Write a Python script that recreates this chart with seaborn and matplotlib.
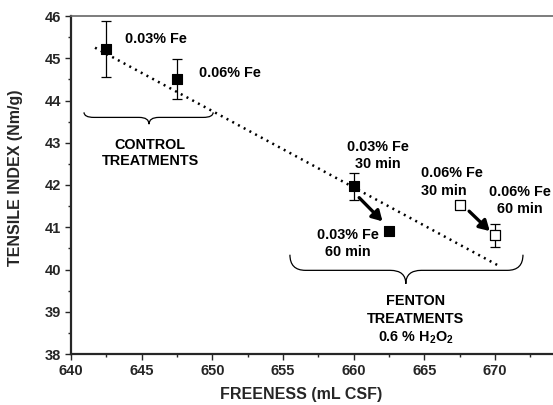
import numpy as np
import pandas as pd
import matplotlib
matplotlib.use("Agg")
import matplotlib.pyplot as plt
from matplotlib.path import Path
from matplotlib.patches import PathPatch
import seaborn as sns

# ---- data ----
freeness = [642.5, 647.5, 660.0, 662.5, 667.5, 670.0]
tensile = [45.22, 44.51, 41.97, 40.90, 41.52, 40.81]
tensile_err = [0.66, 0.48, 0.32, 0.0, 0.0, 0.27]
fill_kind = ["filled", "filled", "filled", "filled", "open", "open"]

trend_x = [641.7, 670.2]
trend_y = [45.25, 40.10]

x_ticks = [640, 645, 650, 655, 660, 665, 670]
y_ticks = [38, 39, 40, 41, 42, 43, 44, 45, 46]

df = pd.DataFrame({"freeness": freeness, "tensile": tensile,
                   "err": tensile_err, "kind": fill_kind})

sns.set_style("ticks")
plt.rcParams["font.family"] = ["Liberation Sans", "DejaVu Sans"]
plt.rcParams["font.weight"] = "bold"
plt.rcParams["mathtext.default"] = "regular"

fig = plt.figure(figsize=(5.53, 4.05), dpi=100)
ax = fig.add_axes([71 / 553, 1 - 354 / 405, 482 / 553, 338 / 405])

# trend line
sns.lineplot(x=trend_x, y=trend_y, ax=ax, color="black", lw=1.8,
             linestyle=(0, (0.8, 1.8)), zorder=2)

# error bars
with_err = df[df["err"] > 0]
ax.errorbar(with_err["freeness"], with_err["tensile"], yerr=with_err["err"],
            fmt="none", ecolor="black", elinewidth=0.9, capsize=3.5,
            capthick=0.9, zorder=3)

# points
filled = df[df["kind"] == "filled"]
opened = df[df["kind"] == "open"]
sns.scatterplot(data=filled, x="freeness", y="tensile", ax=ax, marker="s",
                s=50, color="black", edgecolor="black", linewidth=0.8, zorder=4)
sns.scatterplot(data=opened, x="freeness", y="tensile", ax=ax, marker="s",
                s=50, facecolor="white", edgecolor="black", linewidth=0.9, zorder=4)

# arrows
arrow_kw = dict(arrowstyle="-|>,head_width=0.35,head_length=0.6",
                color="black", lw=2.4, shrinkA=0, shrinkB=0)
ax.annotate("", xy=(662.04, 41.14), xytext=(660.39, 41.70), arrowprops=arrow_kw)
ax.annotate("", xy=(669.63, 40.91), xytext=(668.17, 41.38), arrowprops=arrow_kw)


def brace(x0, x1, xm, ytop, yline, ytip, r):
    verts = [(x0, ytop), (x0, yline), (x0 + r, yline),
             (xm - r, yline), (xm, yline), (xm, ytip),
             (xm, yline), (xm + r, yline),
             (x1 - r, yline), (x1, yline), (x1, ytop)]
    codes = [Path.MOVETO, Path.CURVE3, Path.CURVE3,
             Path.LINETO, Path.CURVE3, Path.CURVE3,
             Path.CURVE3, Path.CURVE3,
             Path.LINETO, Path.CURVE3, Path.CURVE3]
    ax.add_patch(PathPatch(Path(verts, codes), fc="none", ec="black", lw=0.9))


brace(640.92, 650.06, 645.52, 43.72, 43.60, 43.44, 0.7)
brace(655.49, 671.98, 663.69, 40.35, 39.98, 39.66, 1.1)

fs = 10.4
tk = dict(fontsize=fs, fontweight="bold", color="black")
ax.text(643.82, 45.45, "0.03% Fe", ha="left", va="center", **tk)
ax.text(649.07, 44.65, "0.06% Fe", ha="left", va="center", **tk)
ax.text(645.59, 42.76, "CONTROL\nTREATMENTS", ha="center", va="center",
        linespacing=1.12, **tk)
ax.text(661.71, 42.69, "0.03% Fe\n30 min", ha="center", va="center",
        linespacing=1.3, **tk)
ax.text(664.80, 42.07, "0.06% Fe\n30 min", ha="left", va="center",
        linespacing=1.3, **tk)
ax.text(671.75, 41.64, "0.06% Fe\n60 min", ha="center", va="center",
        linespacing=1.3, **tk)
ax.text(659.59, 40.62, "0.03% Fe\n60 min", ha="center", va="center",
        linespacing=1.3, **tk)
ax.text(664.40, 38.80, "FENTON\nTREATMENTS\n0.6 % H$_2$O$_2$", ha="center",
        va="center", linespacing=1.33, **tk)

ax.set_xlim(640, 640 + 482 / 14.133)
ax.set_ylim(38, 46)
ax.set_xticks(x_ticks)
ax.set_yticks(y_ticks)
ax.set_xticks([t + 2.5 for t in x_ticks], minor=True)
ax.set_yticks([t + 0.5 for t in y_ticks[:-1]], minor=True)
ax.tick_params(axis="both", which="major", direction="out", length=4.5,
               width=1, labelsize=10.5, pad=2.5)
ax.tick_params(axis="both", which="minor", direction="out", length=2.5, width=1)
for lab in ax.get_xticklabels() + ax.get_yticklabels():
    lab.set_fontweight("bold")

ax.set_xlabel("FREENESS (mL CSF)", fontsize=11.5, fontweight="bold")
ax.set_ylabel("TENSILE INDEX (Nm/g)", fontsize=11.5, fontweight="bold")
ax.xaxis.set_label_coords((301 - 71) / 482, -(387 - 354) / 338)
ax.yaxis.set_label_coords(-(71 - 23) / 482, (354 - 178) / 338)

ax.spines["left"].set_linewidth(1.6)
ax.spines["bottom"].set_linewidth(1.6)
ax.spines["top"].set_linewidth(1.2)
ax.spines["top"].set_color("#666666")
ax.spines["right"].set_visible(False)

fig.savefig("out.png", dpi=100)
